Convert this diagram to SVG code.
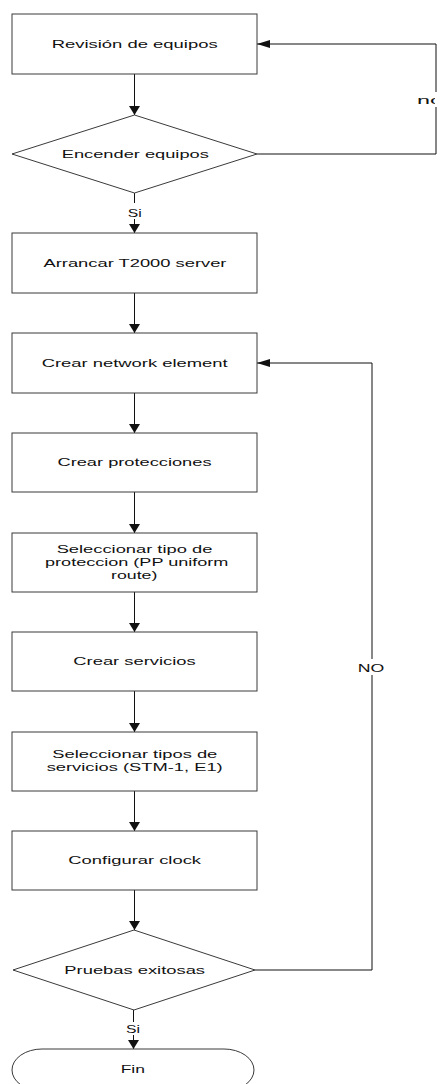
<svg xmlns="http://www.w3.org/2000/svg" width="443" height="1084" viewBox="0 0 443 1084">
<style>
.box{fill:#fff;stroke:#3a3a3a;stroke-width:1}
.ln{fill:none;stroke:#111;stroke-width:1}
.t{font-family:"Liberation Sans",Arial,sans-serif;font-size:11px;fill:#111;text-anchor:middle}
.lbl{fill:#fff;stroke:none}
</style>
<defs>
<marker id="arrV" viewBox="0 0 9 11" refX="9" refY="5.5" markerWidth="9" markerHeight="11" markerUnits="userSpaceOnUse" orient="auto"><path d="M0,0 L9,5.5 L0,11 Z" fill="#111"/></marker>
<marker id="arrH" viewBox="0 0 13 8" refX="13" refY="4" markerWidth="13" markerHeight="8" markerUnits="userSpaceOnUse" orient="auto"><path d="M0,0 L13,4 L0,8 Z" fill="#111"/></marker>
<clipPath id="clipNo"><rect x="410" y="85" width="25" height="30"/></clipPath>
</defs>
<rect width="443" height="1084" fill="#fff"/>
<g id="connectors">
<line class="ln" x1="134.5" y1="74" x2="134.5" y2="115" marker-end="url(#arrV)"/>
<polyline class="ln" points="257,154 436,154 436,44 257,44" marker-end="url(#arrH)"/>
<rect class="lbl" x="414" y="92" width="29" height="15"/>
<text class="t" x="417" y="104" style="text-anchor:start" textLength="26" lengthAdjust="spacingAndGlyphs" clip-path="url(#clipNo)">no</text>
<line class="ln" x1="134.5" y1="193" x2="134.5" y2="233" marker-end="url(#arrV)"/>
<rect class="lbl" x="124" y="203" width="21" height="16"/>
<text class="t" x="134.7" y="216.5" textLength="14" lengthAdjust="spacingAndGlyphs">Si</text>
<line class="ln" x1="134.5" y1="293" x2="134.5" y2="333" marker-end="url(#arrV)"/>
<line class="ln" x1="134.5" y1="393" x2="134.5" y2="433" marker-end="url(#arrV)"/>
<line class="ln" x1="134.5" y1="492" x2="134.5" y2="533" marker-end="url(#arrV)"/>
<line class="ln" x1="134.5" y1="592" x2="134.5" y2="632" marker-end="url(#arrV)"/>
<line class="ln" x1="134.5" y1="691" x2="134.5" y2="732" marker-end="url(#arrV)"/>
<line class="ln" x1="134.5" y1="791" x2="134.5" y2="831" marker-end="url(#arrV)"/>
<line class="ln" x1="134.5" y1="890" x2="134.5" y2="930" marker-end="url(#arrV)"/>
<polyline class="ln" points="255,970 372,970 372,363 257,363" marker-end="url(#arrH)"/>
<rect class="lbl" x="356" y="659" width="31" height="16"/>
<text class="t" x="371" y="671.5" font-size="12" textLength="26.5" lengthAdjust="spacingAndGlyphs">NO</text>
<line class="ln" x1="133.5" y1="1010" x2="133.5" y2="1049" marker-end="url(#arrV)"/>
<rect class="lbl" x="123" y="1022" width="21" height="13"/>
<text class="t" x="133" y="1032.5" textLength="14" lengthAdjust="spacingAndGlyphs">Si</text>
</g>
<g id="n1"><rect class="box" x="12" y="14" width="245" height="60"/><text class="t" x="134.7" y="48" textLength="166" lengthAdjust="spacingAndGlyphs">Revisión de equipos</text></g>
<g id="n2"><polygon class="box" points="134.5,115 257,154 134.5,193 12,154"/><text class="t" x="135.3" y="158" textLength="147" lengthAdjust="spacingAndGlyphs">Encender equipos</text></g>
<g id="n3"><rect class="box" x="12" y="233" width="245" height="60"/><text class="t" x="135" y="267" textLength="183" lengthAdjust="spacingAndGlyphs">Arrancar T2000 server</text></g>
<g id="n4"><rect class="box" x="12" y="333" width="245" height="60"/><text class="t" x="134.7" y="367" textLength="186" lengthAdjust="spacingAndGlyphs">Crear network element</text></g>
<g id="n5"><rect class="box" x="12" y="433" width="245" height="59"/><text class="t" x="134.5" y="466" textLength="154" lengthAdjust="spacingAndGlyphs">Crear protecciones</text></g>
<g id="n6"><rect class="box" x="12" y="533" width="245" height="59"/><text class="t" x="134.5" y="553" textLength="155.7" lengthAdjust="spacingAndGlyphs">Seleccionar tipo de</text><text class="t" x="136.7" y="566" textLength="183.3" lengthAdjust="spacingAndGlyphs">proteccion (PP uniform</text><text class="t" x="134.2" y="579" textLength="46.3" lengthAdjust="spacingAndGlyphs">route)</text></g>
<g id="n7"><rect class="box" x="12" y="632" width="245" height="59"/><text class="t" x="134.5" y="665" textLength="122.3" lengthAdjust="spacingAndGlyphs">Crear servicios</text></g>
<g id="n8"><rect class="box" x="12" y="732" width="245" height="59"/><text class="t" x="134.8" y="758" textLength="165" lengthAdjust="spacingAndGlyphs">Seleccionar tipos de</text><text class="t" x="134.7" y="771" textLength="176" lengthAdjust="spacingAndGlyphs">servicios (STM-1, E1)</text></g>
<g id="n9"><rect class="box" x="12" y="831" width="245" height="59"/><text class="t" x="134.7" y="864" textLength="132.7" lengthAdjust="spacingAndGlyphs">Configurar clock</text></g>
<g id="n10"><polygon class="box" points="134,930 255,970 134,1010 13,970"/><text class="t" x="134.7" y="974" textLength="140.7" lengthAdjust="spacingAndGlyphs">Pruebas exitosas</text></g>
<g id="n11"><rect class="box" x="12" y="1049" width="242" height="42" rx="30" ry="21"/><text class="t" x="132.8" y="1073" textLength="24.3" lengthAdjust="spacingAndGlyphs">Fin</text></g>
</svg>
